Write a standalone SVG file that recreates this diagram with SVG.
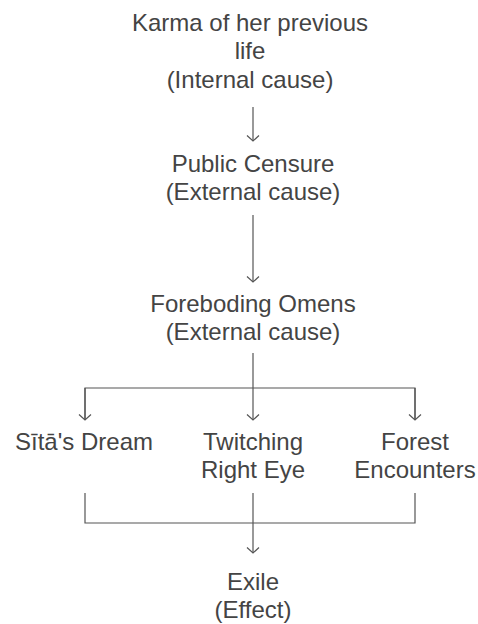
<svg xmlns="http://www.w3.org/2000/svg" width="478" height="624" viewBox="0 0 478 624">
<style>
text{font-family:"Liberation Sans",Arial,sans-serif;font-size:24px;fill:#444;text-anchor:middle}
.c{stroke:#555;stroke-width:1.2;fill:none}
</style>
<defs>
<marker id="ah" markerUnits="userSpaceOnUse" markerWidth="14" markerHeight="14" viewBox="-7 -7 14 14" refX="0" refY="0" orient="auto">
<path d="M-5.5,-6 L0,0 L-5.5,6" fill="none" stroke="#555" stroke-width="1.2"/>
</marker>
</defs>
<rect width="478" height="624" fill="#fff"/>
<g id="karma"><text x="250" y="31">Karma of her previous</text><text x="250" y="59">life</text><text x="250" y="87.5">(Internal cause)</text></g>
<g id="censure"><text x="253" y="172">Public Censure</text><text x="253" y="200">(External cause)</text></g>
<g id="omens"><text x="253" y="312">Foreboding Omens</text><text x="253" y="340">(External cause)</text></g>
<g id="dream"><text x="84" y="450">Sītā's Dream</text></g>
<g id="eye"><text x="253" y="450">Twitching</text><text x="253" y="478">Right Eye</text></g>
<g id="forest"><text x="415" y="450">Forest</text><text x="415" y="478">Encounters</text></g>
<g id="exile"><text x="253" y="590">Exile</text><text x="253" y="618">(Effect)</text></g>
<g id="connectors">
<line class="c" x1="253" y1="107" x2="253" y2="141" marker-end="url(#ah)"/>
<line class="c" x1="253" y1="215" x2="253" y2="282" marker-end="url(#ah)"/>
<line class="c" x1="253" y1="353" x2="253" y2="420" marker-end="url(#ah)"/>
<polyline class="c" points="85,420 85,388 415,388 415,420"/>
<line class="c" x1="85" y1="388" x2="85" y2="420" marker-end="url(#ah)"/>
<line class="c" x1="415" y1="388" x2="415" y2="420" marker-end="url(#ah)"/>
<polyline class="c" points="85,493 85,523 415,523 415,493"/>
<line class="c" x1="253" y1="493" x2="253" y2="553" marker-end="url(#ah)"/>
</g>
</svg>
